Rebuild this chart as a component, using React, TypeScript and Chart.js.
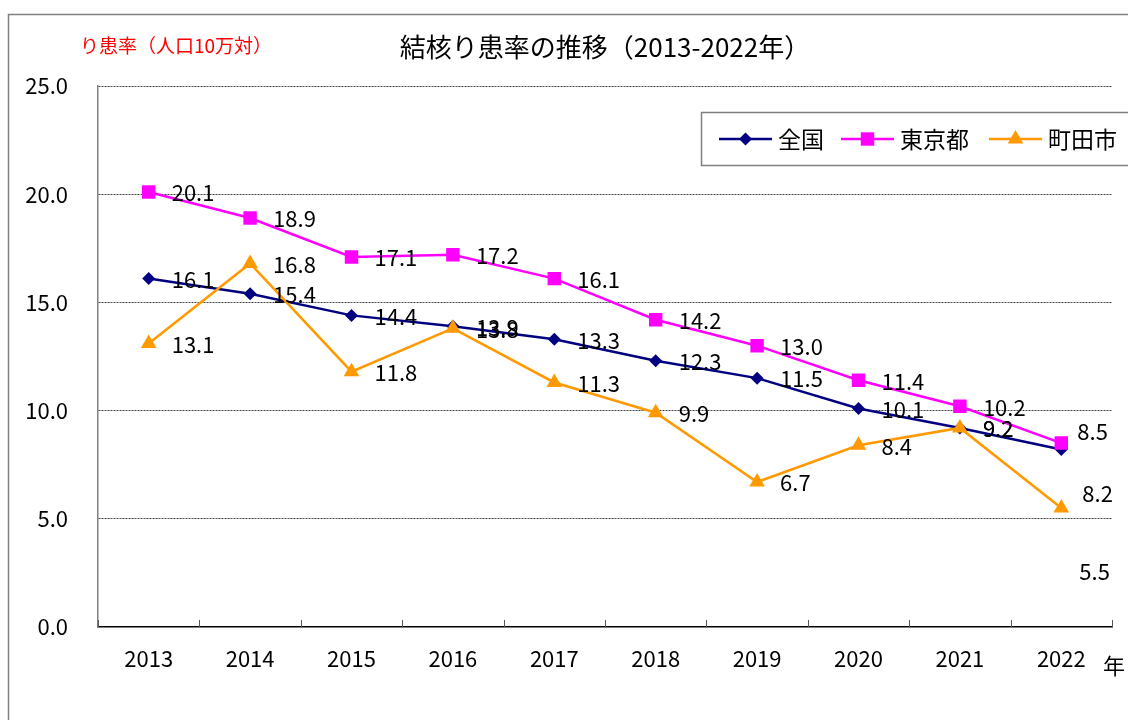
import React, { useEffect, useRef } from 'react';
import { Chart, registerables } from 'chart.js';

Chart.register(...registerables);

const years = ['2013', '2014', '2015', '2016', '2017', '2018', '2019', '2020', '2021', '2022'];
const national = [16.1, 15.4, 14.4, 13.9, 13.3, 12.3, 11.5, 10.1, 9.2, 8.2];
const tokyo = [20.1, 18.9, 17.1, 17.2, 16.1, 14.2, 13.0, 11.4, 10.2, 8.5];
const machida = [13.1, 16.8, 11.8, 13.8, 11.3, 9.9, 6.7, 8.4, 9.2, 5.5];
const seriesNames = ['全国', '東京都', '町田市'];
const yMin = 0;
const yMax = 25;
const yStep = 5;

const titleText = '結核り患率の推移（2013-2022年）';
const yTitleText = 'り患率（人口10万対）';
const xUnitText = '年';

// label placement style (offsets in px relative to each point)
const labelDx = 23;
const labelDy = 1;
const lastLabelShift = [
  [21, 44],
  [16, -11],
  [18, 64],
];

const colors = ['#000080', '#FF00FF', '#FF9900'];
const shapes = ['rectRot', 'rect', 'triangle'];
const radii = [6.5, 9.5, 9];

const NUM_FONT = '22px "Noto Sans CJK JP", "Noto Sans", sans-serif';
const JP = '"Noto Sans CJK JP", "Noto Sans", sans-serif';

function drawMarker(ctx: CanvasRenderingContext2D, shape: string, x: number, y: number, r: number, color: string) {
  ctx.save();
  ctx.fillStyle = color;
  ctx.beginPath();
  if (shape === 'rectRot') {
    ctx.moveTo(x, y - r);
    ctx.lineTo(x + r, y);
    ctx.lineTo(x, y + r);
    ctx.lineTo(x - r, y);
  } else if (shape === 'rect') {
    const s = Math.SQRT1_2 * r;
    ctx.rect(x - s, y - s, 2 * s, 2 * s);
  } else {
    ctx.moveTo(x, y - r);
    ctx.lineTo(x + r * 0.866, y + r / 2);
    ctx.lineTo(x - r * 0.866, y + r / 2);
  }
  ctx.closePath();
  ctx.fill();
  ctx.restore();
}

const decorPlugin = {
  id: 'decor',
  beforeDraw(chart: any) {
    const ctx = chart.ctx as CanvasRenderingContext2D;
    ctx.save();
    ctx.fillStyle = '#fff';
    ctx.fillRect(0, 0, chart.width, chart.height);
    ctx.strokeStyle = '#808080';
    ctx.lineWidth = 1.5;
    ctx.strokeRect(8.5, 14.5, 2000, 2000);
    ctx.restore();
  },
  afterDraw(chart: any) {
    const ctx = chart.ctx as CanvasRenderingContext2D;
    const area = chart.chartArea;
    const xs = chart.scales.x;
    ctx.save();
    // title
    ctx.fillStyle = '#000';
    ctx.font = `26px ${JP}`;
    ctx.textAlign = 'center';
    ctx.textBaseline = 'middle';
    ctx.fillText(titleText, (area.left + area.right) / 2, 47);
    // y title
    ctx.fillStyle = '#FF0000';
    ctx.font = `19px ${JP}`;
    ctx.textAlign = 'left';
    ctx.fillText(yTitleText, 80, 46);
    // x unit
    ctx.fillStyle = '#000';
    ctx.font = `22px ${JP}`;
    ctx.fillText(xUnitText, 1103, 666);
    // inner ticks on x axis
    ctx.strokeStyle = '#555';
    ctx.lineWidth = 1;
    const n = years.length;
    const w = (xs.right - xs.left) / n;
    for (let i = 0; i <= n; i++) {
      const x = Math.round(xs.left + i * w) + 0.5;
      ctx.beginPath();
      ctx.moveTo(x, area.bottom - 7);
      ctx.lineTo(x, area.bottom);
      ctx.stroke();
    }
    // legend
    ctx.strokeStyle = '#808080';
    ctx.lineWidth = 1.5;
    ctx.strokeRect(701.5, 112.5, 600, 53);
    const legendX = [719, 841, 989];
    const ly = 139;
    chart.data.datasets.forEach((ds: any, i: number) => {
      const x0 = legendX[i];
      ctx.strokeStyle = colors[i];
      ctx.lineWidth = 2.5;
      ctx.beginPath();
      ctx.moveTo(x0, ly);
      ctx.lineTo(x0 + 53, ly);
      ctx.stroke();
      drawMarker(ctx, shapes[i], x0 + 26.5, ly, radii[i], colors[i]);
      ctx.fillStyle = '#000';
      ctx.font = `23px ${JP}`;
      ctx.textAlign = 'left';
      ctx.textBaseline = 'middle';
      ctx.fillText(ds.label, x0 + 59, ly);
    });
    // data labels
    ctx.font = NUM_FONT;
    ctx.fillStyle = '#000';
    ctx.textAlign = 'left';
    ctx.textBaseline = 'middle';
    chart.data.datasets.forEach((ds: any, di: number) => {
      const meta = chart.getDatasetMeta(di);
      meta.data.forEach((pt: any, i: number) => {
        const last = i === ds.data.length - 1;
        const dx = last ? lastLabelShift[di][0] : labelDx;
        const dy = last ? lastLabelShift[di][1] : labelDy;
        ctx.fillText(Number(ds.data[i]).toFixed(1), pt.x + dx, pt.y + dy);
      });
    });
    ctx.restore();
  },
};

export default function App() {
  const ref = useRef<HTMLCanvasElement | null>(null);
  useEffect(() => {
    if (!ref.current) return;
    const seriesData = [national, tokyo, machida];
    const chart = new Chart(ref.current, {
      type: 'line',
      data: {
        labels: years,
        datasets: seriesData.map((d, i) => ({
          label: seriesNames[i],
          data: d,
          borderColor: colors[i],
          backgroundColor: colors[i],
          borderWidth: 2.5,
          pointStyle: shapes[i] as any,
          pointRadius: radii[i],
          pointBorderWidth: 0,
          pointBackgroundColor: colors[i],
          tension: 0,
          fill: false,
          order: 2 - i,
        })),
      },
      options: {
        responsive: false,
        animation: false,
        devicePixelRatio: 1,
        layout: { padding: { left: 10, top: 86, right: 16, bottom: 0 } },
        plugins: {
          legend: { display: false },
          title: { display: false },
          tooltip: { enabled: false },
        },
        scales: {
          x: {
            type: 'category',
            offset: true,
            grid: { display: false, drawTicks: false },
            border: { display: true, color: '#000', width: 1.5 },
            ticks: { color: '#000', font: { size: 22, family: JP }, padding: 18, maxRotation: 0, autoSkip: false },
            afterFit: (s: any) => { s.height = 93; },
          },
          y: {
            min: yMin,
            max: yMax,
            grid: {
              drawTicks: false,
              color: (c: any) => (c.tick && c.tick.value === 0 ? 'rgba(0,0,0,0)' : '#444'),
              lineWidth: 1,
            },
            border: { display: true, color: '#808080', width: 1.5, dash: [2, 1] },
            ticks: {
              stepSize: yStep,
              color: '#000',
              padding: 30,
              font: { size: 22, family: JP },
              callback: (v: any) => Number(v).toFixed(1),
            },
            afterFit: (s: any) => { s.width = 88; },
          },
        },
      },
      plugins: [decorPlugin],
    });
    return () => chart.destroy();
  }, []);
  return (
    <canvas
      ref={ref}
      width={1128}
      height={720}
      style={{ position: 'fixed', left: 0, top: 0, width: 1128, height: 720 }}
    />
  );
}
